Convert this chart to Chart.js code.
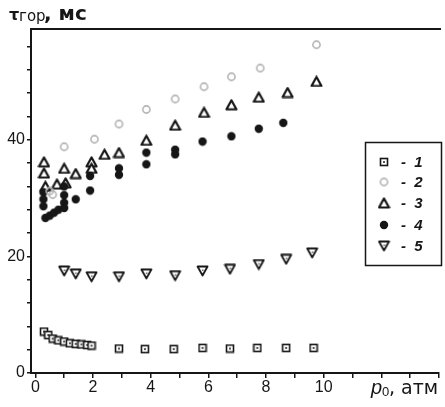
<!DOCTYPE html>
<html>
<head>
<meta charset="utf-8">
<script src="https://cdn.jsdelivr.net/npm/chart.js@4/dist/chart.umd.min.js"></script>
<style>
  html, body { margin: 0; padding: 0; background: #fff; overflow: hidden; }
  #wrap { position: relative; width: 445px; height: 407px; }
</style>
</head>
<body>
<div id="wrap"><canvas id="chart" width="445" height="407"></canvas></div>
<script>
(function () {
  'use strict';

  // ── data ──
  var seriesLabels = ['1', '2', '3', '4', '5'];

  var p1 = [0.3, 0.45, 0.6, 0.8, 1.0, 1.2, 1.4, 1.6, 1.8, 1.95, 2.9, 3.8, 4.8, 5.8, 6.75, 7.7, 8.7, 9.65];
  var t1 = [7.1, 6.5, 5.9, 5.6, 5.4, 5.1, 5.0, 4.9, 4.8, 4.7, 4.2, 4.1, 4.1, 4.3, 4.2, 4.3, 4.3, 4.3];

  var p2 = [0.5, 0.6, 1.0, 2.05, 2.9, 3.85, 4.85, 5.85, 6.8, 7.8, 9.75];
  var t2 = [31.2, 30.6, 38.8, 40.1, 42.7, 45.2, 47.0, 49.1, 50.8, 52.3, 56.3];

  var p3 = [0.3, 0.3, 0.35, 0.75, 1.05, 1.0, 1.4, 1.95, 1.95, 2.4, 2.9, 3.85, 4.85, 5.85, 6.8, 7.75, 8.75, 9.75];
  var t3 = [36.2, 34.3, 32.0, 32.4, 32.6, 35.1, 34.2, 36.2, 35.1, 37.5, 37.8, 39.9, 42.5, 44.7, 46.0, 47.3, 48.1, 50.0];

  var p4 = [0.28, 0.28, 0.28, 0.35, 0.5, 0.65, 0.8, 1.0, 1.0, 1.0, 1.0, 1.4, 1.9, 1.9, 2.9, 2.9, 3.85, 3.85, 4.85, 4.85, 5.8, 6.8, 7.75, 8.6];
  var t4 = [31.0, 29.8, 28.6, 26.6, 27.0, 27.5, 28.0, 32.0, 30.5, 29.2, 28.3, 29.8, 31.3, 33.8, 34.0, 35.1, 35.8, 37.8, 37.5, 38.3, 39.7, 40.6, 41.9, 42.9];

  var p5 = [1.0, 1.4, 1.95, 2.9, 3.85, 4.85, 5.8, 6.75, 7.75, 8.7, 9.6];
  var t5 = [17.5, 17.0, 16.5, 16.5, 17.0, 16.7, 17.5, 17.8, 18.6, 19.5, 20.6];

  var xTicks = [0, 1, 2, 3, 4, 5, 6, 7, 8, 9, 10, 11, 12, 13, 14];
  var xTickLabels = [0, 2, 4, 6, 8, 10];
  var yTicks = [0, 4, 8, 12, 16, 20, 24, 28, 32, 36, 40, 44, 48, 52, 56];
  var yTickLabels = [0, 20, 40];

  var INK = '#161616';

  function pts(xs, ys) {
    return xs.map(function (x, i) { return { x: x, y: ys[i] }; });
  }

  /* ── marker images ── */
  function mk(w, h, draw) {
    var c = document.createElement('canvas');
    c.width = w; c.height = h;
    draw(c.getContext('2d'));
    return c;
  }

  var mSquare = mk(10, 10, function (g) {
    g.fillStyle = '#fff';
    g.strokeStyle = INK;
    g.lineWidth = 1.6;
    g.fillRect(1.5, 1.5, 7, 7);
    g.strokeRect(1.5, 1.5, 7, 7);
    g.fillStyle = '#555';
    g.fillRect(4, 4, 2, 2);
  });

  var mRing = mk(11, 11, function (g) {
    g.strokeStyle = '#b4b4b4';
    g.lineWidth = 1.6;
    g.beginPath();
    g.arc(5.5, 5.5, 3.6, 0, Math.PI * 2);
    g.stroke();
  });

  var mUp = mk(13, 12, function (g) {
    g.fillStyle = '#fff';
    g.strokeStyle = INK;
    g.lineWidth = 2.2;
    g.lineJoin = 'round';
    g.beginPath();
    g.moveTo(6.5, 1.5); g.lineTo(11.5, 10.5); g.lineTo(1.5, 10.5); g.closePath();
    g.fill(); g.stroke();
  });

  var mDot = mk(10, 10, function (g) {
    g.fillStyle = INK;
    g.beginPath();
    g.arc(5, 5, 4.2, 0, Math.PI * 2);
    g.fill();
  });

  var mDown = mk(13, 12, function (g) {
    g.fillStyle = '#fff';
    g.strokeStyle = INK;
    g.lineWidth = 1.8;
    g.lineJoin = 'round';
    g.beginPath();
    g.moveTo(1.5, 1.5); g.lineTo(11.5, 1.5); g.lineTo(6.5, 10.5); g.closePath();
    g.fill(); g.stroke();
    g.fillStyle = '#666';
    g.fillRect(6, 4.5, 1.5, 1.5);
  });

  var markers = [mSquare, mRing, mUp, mDot, mDown];

  /* ── frame, titles, legend ── */
  var decor = {
    id: 'decor',
    afterDraw: function (chart) {
      var ctx = chart.ctx;
      var a = chart.chartArea;
      ctx.save();

      // top frame line
      ctx.strokeStyle = INK;
      ctx.lineWidth = 2;
      ctx.beginPath();
      ctx.moveTo(a.left - 1, a.top);
      ctx.lineTo(a.right + 2, a.top);
      ctx.stroke();

      // y title: τгор, мс
      ctx.fillStyle = INK;
      ctx.textBaseline = 'alphabetic';
      ctx.textAlign = 'left';
      ctx.font = '600 16px "DejaVu Sans", sans-serif';
      ctx.fillText('τ', 9, 20);
      ctx.font = '15px "DejaVu Sans", sans-serif';
      ctx.fillText('гор', 19, 21);
      ctx.font = 'bold 20px "DejaVu Sans", sans-serif';
      ctx.fillText(', мс', 44, 20);

      // x title: p0, атм
      ctx.font = 'italic 20px "Liberation Sans", sans-serif';
      ctx.fillText('p', 371, 394);
      ctx.font = '13px "Liberation Sans", sans-serif';
      ctx.fillText('0', 382, 396);
      ctx.font = '19px "DejaVu Sans", sans-serif';
      ctx.fillText(', атм', 389, 394);

      // legend box
      ctx.lineWidth = 1.5;
      ctx.strokeRect(365.5, 142.5, 76, 123);
      var rowY = [162, 182, 203, 225, 246];
      ctx.font = 'bold italic 15px "Liberation Sans", sans-serif';
      ctx.textBaseline = 'middle';
      seriesLabels.forEach(function (lab, i) {
        var m = markers[i];
        ctx.drawImage(m, 384 - m.width / 2, rowY[i] - m.height / 2);
        ctx.fillText('-  ' + lab, 401, rowY[i] + 1);
      });
      ctx.restore();
    }
  };

  function ds(label, xs, ys, marker) {
    return {
      label: label,
      data: pts(xs, ys),
      pointStyle: marker,
      pointRadius: 5,
      showLine: false
    };
  }

  new Chart(document.getElementById('chart'), {
    type: 'scatter',
    data: {
      datasets: [
        ds(seriesLabels[4], p5, t5, mDown),
        ds(seriesLabels[0], p1, t1, mSquare),
        ds(seriesLabels[1], p2, t2, mRing),
        ds(seriesLabels[3], p4, t4, mDot),
        ds(seriesLabels[2], p3, t3, mUp)
      ]
    },
    options: {
      responsive: false,
      animation: false,
      layout: { padding: { top: 29, right: 0, left: 0, bottom: 0 } },
      plugins: {
        legend: { display: false },
        tooltip: { enabled: false }
      },
      scales: {
        x: {
          type: 'linear',
          min: -0.15,
          max: 14,
          afterBuildTicks: function (s) {
            s.ticks = xTicks.map(function (v) { return { value: v }; });
          },
          afterFit: function (s) { s.height = 34; },
          ticks: {
            autoSkip: false,
            maxRotation: 0,
            padding: 0,
            color: INK,
            font: { family: '"Liberation Sans", sans-serif', size: 16 },
            callback: function (v) {
              return xTickLabels.indexOf(v) >= 0 ? String(v) : '';
            }
          },
          grid: { drawOnChartArea: false, tickLength: 5, color: INK, lineWidth: 1.5 },
          border: { color: INK, width: 2 }
        },
        y: {
          type: 'linear',
          min: 0,
          max: 59,
          afterBuildTicks: function (s) {
            s.ticks = yTicks.map(function (v) { return { value: v }; });
          },
          afterFit: function (s) { s.width = 31; },
          ticks: {
            autoSkip: false,
            padding: 2,
            color: INK,
            font: { family: '"Liberation Sans", sans-serif', size: 16 },
            callback: function (v) {
              return yTickLabels.indexOf(v) >= 0 ? String(v) : '';
            }
          },
          grid: { drawOnChartArea: false, tickLength: 4, color: INK, lineWidth: 1.5 },
          border: { color: INK, width: 2 }
        }
      }
    },
    plugins: [decor]
  });
})();
</script>
</body>
</html>
